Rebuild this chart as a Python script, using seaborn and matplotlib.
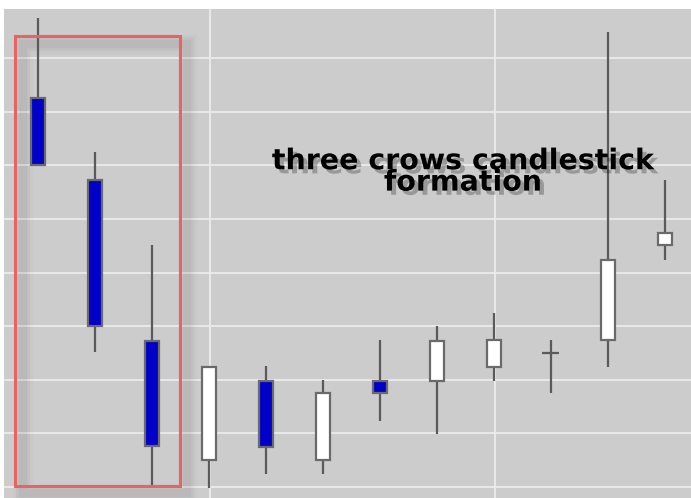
import numpy as np
import pandas as pd
import seaborn as sns
import matplotlib.pyplot as plt
import matplotlib.patheffects as pe
from matplotlib.patches import Rectangle

## Candle data (price units, one grid step = 1)
opens  = [7.26, 5.73, 2.72, 0.50, 1.98, 0.50, 1.98, 1.98, 2.24, 2.50, 2.74, 4.51]
closes = [6.01, 3.00, 0.76, 2.24, 0.75, 1.75, 1.75, 2.72, 2.74, 2.50, 4.24, 4.74]
highs  = [8.75, 6.25, 4.51, 2.24, 2.26, 2.00, 2.74, 3.00, 3.25, 2.74, 8.49, 5.73]
lows   = [6.01, 2.52, 0.00, -0.02, 0.24, 0.24, 1.23, 0.99, 1.98, 1.75, 2.24, 4.24]
label = "three crows candlestick\nformation"

df = pd.DataFrame({"open": opens, "close": closes, "high": highs, "low": lows})
df["x"] = np.arange(len(df))
df["bear"] = df["close"] < df["open"]

sns.set_theme(style="darkgrid", rc={
    "axes.facecolor": "#cccccc",
    "grid.color": "#ececec",
    "grid.linewidth": 1.3,
    "figure.facecolor": "white",
})

fig = plt.figure(figsize=(6.91, 4.98), dpi=100)
ax = fig.add_axes([4 / 691, 0, 687 / 691, 489 / 498])

# wicks
ax.vlines(df["x"], df["low"], df["high"], color="#5a5a5a", linewidth=1.6, zorder=2)

# bodies
width = 0.25
body_bottom = df[["open", "close"]].min(axis=1)
body_height = (df["close"] - df["open"]).abs()
colors = np.where(df["bear"], "#0000c8", "white")
for x, b, h, c in zip(df["x"], body_bottom, body_height, colors):
    if h < 0.01:
        ax.hlines(b, x - 0.15, x + 0.15, color="#5a5a5a", linewidth=1.6, zorder=3)
    else:
        ax.bar(x, h, bottom=b, width=width, color=c, edgecolor="#6a6a6a",
               linewidth=1.6, zorder=3)

# red box around the three crows, with a soft outline shadow
bx, by, bw, bh = -0.40, 0.02, 2.89, 8.39
for lw, a in [(14, 0.02), (10, 0.03), (6, 0.04)]:
    ax.add_patch(Rectangle((bx + 0.13, by - 0.14), bw, bh, fill=False,
                           edgecolor="black", alpha=a, linewidth=lw, zorder=1.5))
ax.add_patch(Rectangle((bx, by), bw, bh, fill=False, edgecolor="#e86464",
                       linewidth=2.2, zorder=4))

txt = ax.text(7.46, 5.88, label, ha="center", va="center", fontsize=20.5,
              fontweight="bold", color="black", linespacing=0.7, zorder=5)
txt.set_path_effects([pe.withSimplePatchShadow(offset=(3, -3), shadow_rgbFace="black", alpha=0.25)])

ax.set_xlim(-0.596, 11.46)
ax.set_ylim(-0.205, 8.92)
ax.set_xticks([3.02, 8.02])
ax.set_yticks(np.arange(0, 9))
ax.set_xticklabels([])
ax.set_yticklabels([])
ax.tick_params(length=0)
for s in ax.spines.values():
    s.set_visible(False)

fig.savefig("out.png", dpi=100)
